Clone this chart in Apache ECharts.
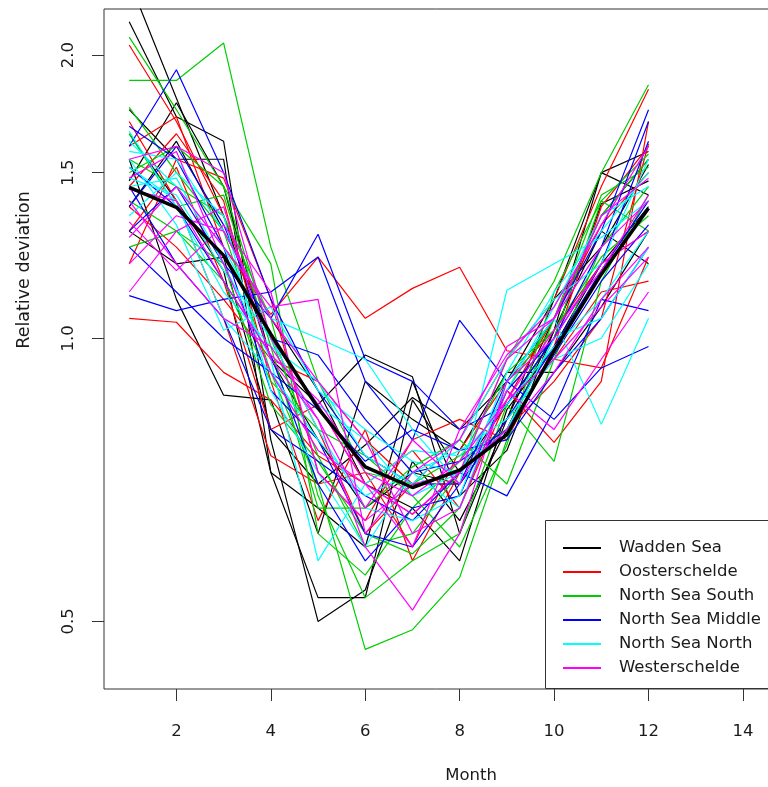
<!DOCTYPE html>
<html>
<head>
<meta charset="utf-8">
<script src="https://cdn.jsdelivr.net/npm/echarts@6/dist/echarts.min.js"></script>
<style>
  html, body { margin: 0; padding: 0; background: #fff; }
  #chart { width: 768px; height: 787px; }
</style>
</head>
<body>
<div id="chart"></div>
<script>
// x positions (month) and tick values
const months = [1, 2, 3, 4, 5, 6, 7, 8, 9, 10, 11, 12];
const xTicks = [2, 4, 6, 8, 10, 12, 14];
const yTicks = [0.5, 1.0, 1.5, 2.0];

const regionNames = ['Wadden Sea', 'Oosterschelde', 'North Sea South', 'North Sea Middle', 'North Sea North', 'Westerschelde'];
const regionColors = ['#000000', '#ff0000', '#00cd00', '#0000ff', '#00ffff', '#ff00ff'];

// relative deviation per station, one row per station
const waddenSea = [
  [2.40, 1.80, 1.35, 0.95, 0.78, 0.66, 0.72, 0.70, 0.82, 1.05, 1.35, 1.55],
  [2.17, 1.72, 1.62, 0.78, 0.50, 0.54, 0.74, 0.64, 0.80, 1.02, 1.50, 1.58],
  [1.75, 1.55, 1.55, 0.72, 0.53, 0.53, 0.86, 0.72, 0.85, 1.00, 1.39, 1.47],
  [1.47, 1.78, 1.45, 0.95, 0.85, 0.96, 0.91, 0.62, 0.82, 1.10, 1.50, 1.42],
  [1.30, 1.20, 1.22, 0.80, 0.70, 0.77, 0.865, 0.80, 0.90, 1.10, 1.25, 1.53],
  [1.55, 1.10, 0.87, 0.86, 0.62, 0.90, 0.82, 0.76, 0.92, 0.92, 1.08, 1.30],
  [1.65, 1.40, 1.18, 0.72, 0.66, 0.60, 0.90, 0.68, 0.76, 1.02, 1.30, 1.20],
  [1.38, 1.62, 1.30, 1.05, 0.88, 0.70, 0.66, 0.58, 0.84, 0.98, 1.20, 1.38]
];
const oosterschelde = [
  [2.05, 1.70, 1.35, 1.00, 0.80, 0.62, 0.70, 0.78, 0.95, 1.10, 1.45, 1.84],
  [1.05, 1.04, 0.92, 0.86, 0.75, 0.70, 0.65, 0.72, 0.80, 0.90, 1.05, 1.61],
  [1.60, 1.72, 1.25, 1.06, 1.22, 1.05, 1.13, 1.19, 0.97, 0.95, 0.93, 1.22],
  [1.45, 1.65, 1.40, 0.90, 0.64, 0.80, 0.58, 0.72, 0.88, 0.775, 0.90, 1.70],
  [1.30, 1.52, 1.15, 0.80, 0.85, 0.70, 0.76, 0.66, 0.86, 1.05, 1.32, 1.50],
  [1.70, 1.40, 1.05, 0.75, 0.70, 0.72, 0.60, 0.76, 0.90, 1.02, 1.20, 1.30],
  [1.20, 1.55, 1.48, 1.10, 0.72, 0.64, 0.78, 0.82, 0.78, 0.98, 1.38, 1.60],
  [1.38, 1.25, 1.10, 0.95, 0.90, 0.78, 0.70, 0.70, 0.82, 0.95, 1.12, 1.15]
];
const northSeaSouth = [
  [2.09, 1.75, 1.45, 1.00, 0.75, 0.60, 0.62, 0.72, 0.95, 1.15, 1.50, 1.86],
  [1.88, 1.88, 2.06, 1.25, 0.90, 0.72, 0.70, 0.75, 0.80, 1.00, 1.40, 1.57],
  [1.76, 1.50, 1.30, 0.92, 0.70, 0.467, 0.49, 0.557, 0.78, 1.05, 1.42, 1.52],
  [1.55, 1.45, 1.35, 1.05, 0.68, 0.53, 0.58, 0.62, 0.85, 0.74, 1.15, 1.42],
  [1.40, 1.30, 1.20, 0.85, 0.74, 0.62, 0.59, 0.66, 0.88, 1.05, 1.35, 1.55],
  [1.65, 1.38, 1.42, 0.98, 0.66, 0.66, 0.73, 0.78, 0.70, 0.95, 1.25, 1.45],
  [1.25, 1.30, 1.15, 0.90, 0.80, 0.75, 0.68, 0.60, 0.77, 1.12, 1.40, 1.30],
  [1.50, 1.60, 1.45, 1.20, 0.62, 0.56, 0.66, 0.74, 0.92, 1.02, 1.22, 1.35]
];
const northSeaMiddle = [
  [1.60, 1.93, 1.50, 1.10, 0.88, 0.75, 0.70, 0.70, 0.90, 1.05, 1.30, 1.75],
  [1.30, 1.45, 1.20, 1.05, 1.29, 0.95, 0.90, 0.80, 0.85, 1.00, 1.25, 1.70],
  [1.11, 1.07, 1.10, 1.12, 1.22, 0.90, 0.78, 1.045, 0.90, 0.82, 0.93, 0.98],
  [1.68, 1.55, 1.25, 0.88, 0.78, 0.62, 0.60, 0.70, 0.82, 0.98, 1.18, 1.40],
  [1.45, 1.20, 1.05, 0.80, 0.74, 0.68, 0.64, 0.72, 0.68, 0.84, 1.10, 1.07],
  [1.25, 1.12, 1.00, 0.92, 0.84, 0.74, 0.80, 0.76, 0.78, 0.92, 1.05, 1.25],
  [1.52, 1.38, 1.15, 0.96, 0.70, 0.58, 0.66, 0.68, 0.88, 1.00, 1.20, 1.62],
  [1.38, 1.60, 1.32, 1.00, 0.96, 0.82, 0.72, 0.74, 0.80, 0.96, 1.15, 1.32]
];
const northSeaNorth = [
  [1.62, 1.45, 1.25, 1.00, 0.85, 0.78, 0.68, 0.72, 0.88, 1.08, 1.35, 1.45],
  [1.58, 1.55, 1.30, 1.05, 1.00, 0.95, 0.80, 0.70, 1.125, 1.20, 1.28, 1.40],
  [1.52, 1.40, 1.05, 0.92, 0.78, 0.68, 0.72, 0.66, 0.90, 1.05, 0.81, 1.05],
  [1.45, 1.48, 1.20, 0.95, 0.58, 0.70, 0.76, 0.75, 0.85, 0.98, 1.10, 1.30],
  [1.66, 1.38, 1.12, 0.98, 0.90, 0.75, 0.70, 0.78, 0.95, 1.10, 1.20, 1.55],
  [1.35, 1.50, 1.35, 0.88, 0.72, 0.60, 0.72, 0.76, 0.82, 0.95, 1.00, 1.20],
  [1.55, 1.32, 1.02, 1.08, 0.88, 0.80, 0.74, 0.72, 0.80, 1.00, 1.05, 1.25],
  [1.48, 1.42, 1.18, 1.00, 0.80, 0.66, 0.64, 0.68, 0.92, 1.12, 1.30, 1.50]
];
const westerschelde = [
  [1.55, 1.60, 1.50, 1.00, 0.85, 0.70, 0.65, 0.72, 0.95, 1.05, 1.25, 1.40],
  [1.12, 1.30, 1.38, 0.95, 0.82, 0.60, 0.514, 0.62, 0.90, 1.00, 1.20, 1.30],
  [1.28, 1.45, 1.25, 1.08, 1.10, 0.62, 0.72, 0.78, 0.98, 1.05, 1.35, 1.48],
  [1.40, 1.20, 1.05, 0.98, 0.82, 0.66, 0.78, 0.70, 0.86, 0.95, 1.08, 1.22],
  [1.20, 1.35, 1.30, 1.05, 0.90, 0.78, 0.62, 0.66, 0.88, 0.80, 0.95, 1.12],
  [1.48, 1.58, 1.20, 0.92, 0.76, 0.70, 0.60, 0.80, 0.96, 1.08, 1.32, 1.60],
  [1.33, 1.18, 1.32, 1.12, 0.72, 0.64, 0.70, 0.72, 0.80, 0.92, 1.10, 1.25],
  [1.44, 1.40, 1.15, 0.96, 0.86, 0.72, 0.68, 0.74, 0.86, 1.02, 1.18, 1.42]
];
// overall mean (thick black line)
const meanLine = [1.447, 1.378, 1.225, 1.01, 0.843, 0.73, 0.694, 0.724, 0.79, 0.97, 1.17, 1.375];

const regions = [waddenSea, oosterschelde, northSeaSouth, northSeaMiddle, northSeaNorth, westerschelde];

const FONT = 'DejaVu Sans';
const TEXT = '#1a1a1a';

// y axis is logarithmic: plot ln(value) on a value axis
function toPoints(values) {
  return months.map((m, i) => [m, Math.log(values[i])]);
}

const series = [];
regions.forEach((stations, r) => {
  stations.forEach(values => {
    series.push({
      name: regionNames[r],
      type: 'line',
      data: toPoints(values),
      symbol: 'none',
      lineStyle: { color: regionColors[r], width: 1.2 },
      itemStyle: { color: regionColors[r] },
      z: 2
    });
  });
});
series.push({
  name: 'Mean',
  type: 'line',
  data: toPoints(meanLine),
  symbol: 'none',
  lineStyle: { color: '#000', width: 3.5 },
  z: 3
});

const chart = echarts.init(document.getElementById('chart'));
chart.setOption({
  animation: false,
  backgroundColor: '#fff',
  grid: {
    // plot box runs past the right edge of the picture
    left: 104, top: 9, width: 680, height: 680,
    outerBoundsMode: 'none',
    show: true, borderColor: '#333', borderWidth: 1, backgroundColor: 'transparent'
  },
  xAxis: {
    type: 'value',
    min: 0.466, max: 14.87,
    axisLine: { show: false, onZero: false },
    splitLine: { show: false },
    axisTick: { show: true, length: 12, customValues: xTicks, lineStyle: { color: '#333' } },
    axisLabel: {
      customValues: xTicks, margin: 34,
      fontFamily: FONT, fontSize: 16.5, color: TEXT
    }
  },
  yAxis: {
    type: 'value',
    min: -0.8585, max: 0.8061,
    axisLine: { show: false, onZero: false },
    splitLine: { show: false },
    axisTick: { show: true, length: 12, customValues: yTicks.map(Math.log), lineStyle: { color: '#333' } },
    axisLabel: {
      customValues: yTicks.map(Math.log), rotate: 90, margin: 27,
      fontFamily: FONT, fontSize: 16.5, color: TEXT,
      formatter: v => Math.exp(v).toFixed(1)
    }
  },
  legend: {
    data: regionNames,
    orient: 'vertical',
    left: 562, top: 538,
    padding: 0,
    // tiny item height keeps the legend symbol invisible, only the line shows
    itemWidth: 38, itemHeight: 2, itemGap: 4,
    selectedMode: false,
    textStyle: { fontFamily: FONT, fontSize: 16.5, color: TEXT, lineHeight: 20, padding: [0, 0, 0, 13] },
    z: 5
  },
  graphic: [
    {
      // legend box (white background covering the lines)
      type: 'rect', z: 4,
      shape: { x: 545.5, y: 520.5, width: 320, height: 168 },
      style: { fill: '#fff', stroke: '#333', lineWidth: 1 }
    },
    {
      type: 'text', z: 5,
      x: 471, y: 776,
      style: { text: 'Month', font: '16.5px "DejaVu Sans"', fill: TEXT, textAlign: 'center', textVerticalAlign: 'middle' }
    },
    {
      type: 'text', z: 5,
      x: 24, y: 270, rotation: Math.PI / 2,
      style: { text: 'Relative deviation', font: '17.5px "DejaVu Sans"', fill: TEXT, textAlign: 'center', textVerticalAlign: 'middle' }
    }
  ],
  series: series
});
</script>
</body>
</html>
